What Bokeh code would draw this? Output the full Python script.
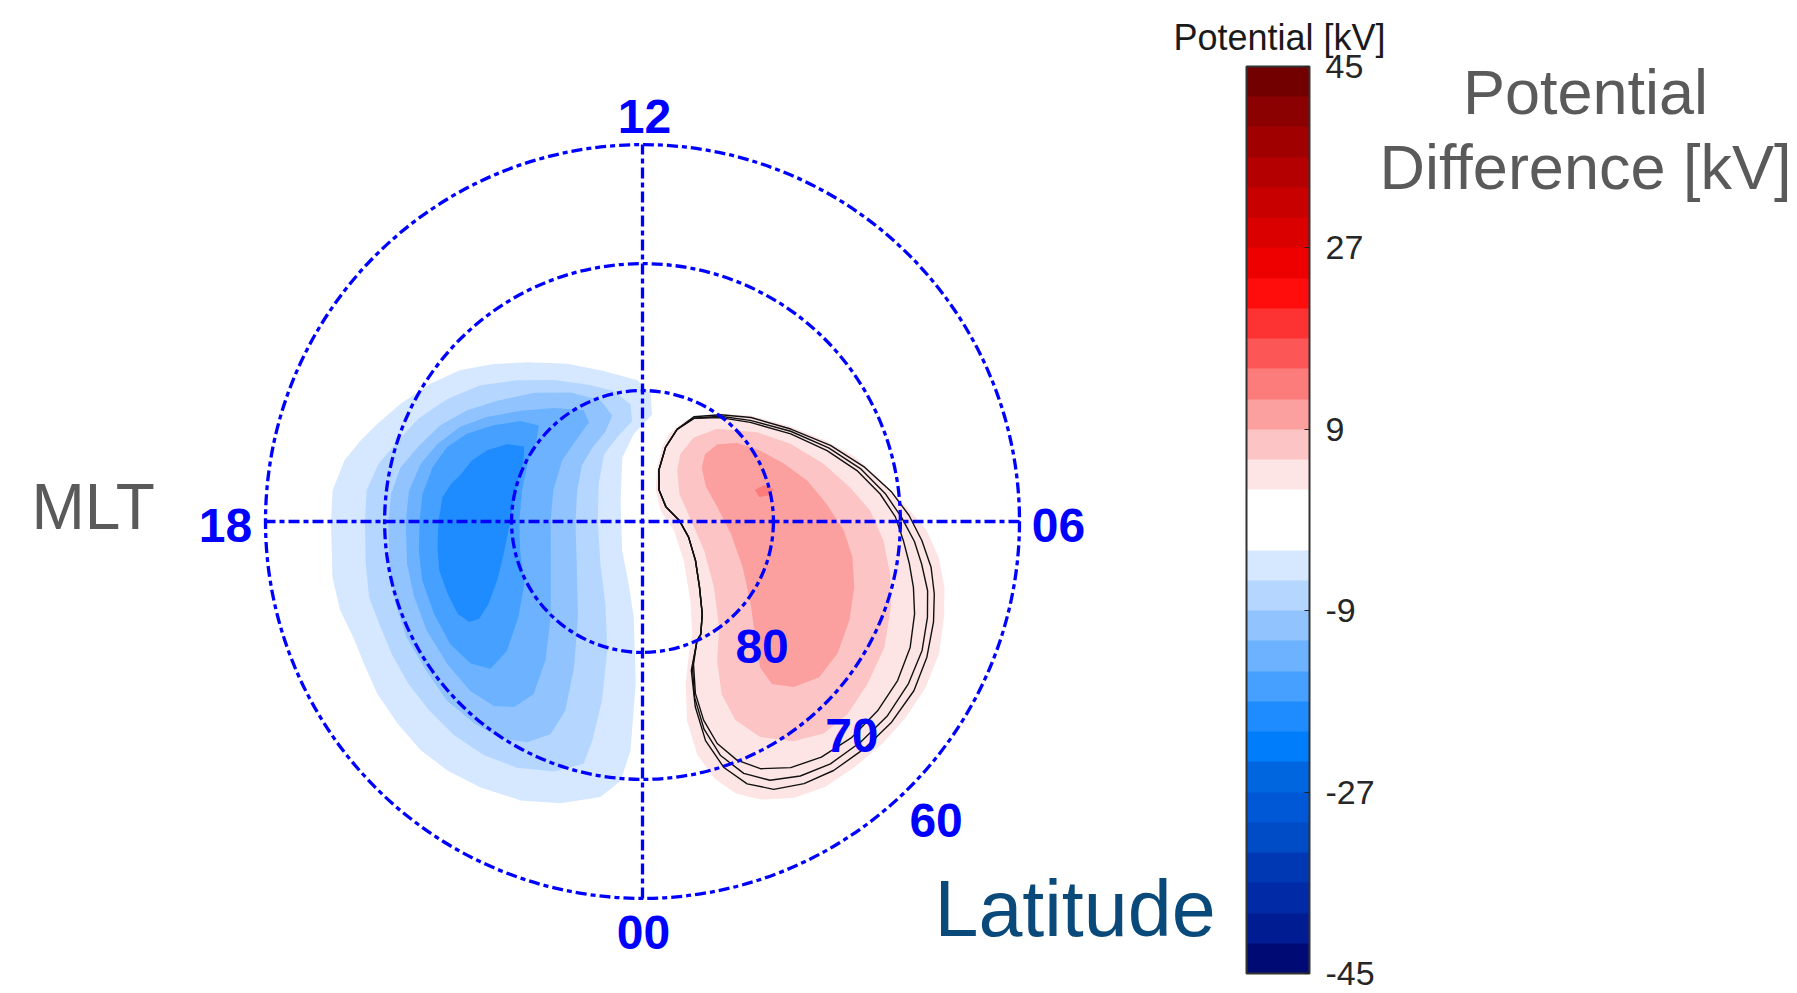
import math
from bokeh.plotting import figure
from bokeh.models import ColorBar, LinearColorMapper, FixedTicker, Label, Range1d
from bokeh.embed import file_html
from bokeh.resources import INLINE
from bokeh.core.properties import value

# ---------------- data (MLT in hours, magnetic latitude in degrees) ----------------
# filled potential contours, negative cell (dusk side)
neg3_mlt = [18.00,17.62,17.23,16.93,16.65,16.27,15.80,15.35,14.89,14.39,13.70,12.96,12.14,11.76,11.66,12.38,13.17,15.09,21.66,23.18,23.65,23.84,23.80,23.68,23.42,22.92,22.43,21.91,21.46,21.06,20.63,20.20,19.80,19.46,19.09,18.68]
neg3_lat = [65.6,65.6,66.2,67.1,68.0,69.1,70.4,71.7,73.3,74.9,76.6,78.1,79.2,80.2,81.8,83.3,84.9,87.7,87.3,85.1,82.7,77.6,72.3,69.8,68.3,67.1,66.2,65.6,65.2,65.0,65.1,65.2,65.5,65.6,65.3,65.3]
neg6_mlt = [18.00,17.57,17.18,16.84,16.36,15.86,15.33,14.77,14.14,13.46,12.83,12.39,12.39,13.11,13.98,15.28,18.00,21.16,22.39,22.98,23.15,23.14,23.09,22.70,22.20,21.72,21.24,20.77,20.32,19.86,19.41,19.03,18.58]
neg6_lat = [68.4,68.4,69.0,69.9,70.9,72.2,73.7,75.5,77.2,78.7,79.8,81.0,82.3,83.3,84.1,85.6,86.6,85.3,83.1,79.8,75.9,72.7,70.7,69.4,68.5,68.0,67.8,67.8,67.8,67.9,68.0,67.9,68.2]
neg9_mlt = [18.00,17.58,17.16,16.78,16.31,15.84,15.35,14.67,13.94,13.28,13.06,13.50,14.27,15.14,16.31,18.00,20.33,21.73,22.32,22.52,22.44,22.16,21.79,21.35,20.83,20.30,19.74,19.23,18.63]
neg9_lat = [70.3,70.4,70.8,71.7,72.7,74.0,75.5,77.1,78.7,80.2,81.6,82.6,83.2,83.7,84.5,84.9,83.9,81.2,77.7,74.3,72.1,70.7,69.9,69.6,69.4,69.6,69.6,69.8,70.1]
neg12_mlt = [18.00,17.50,17.03,16.62,16.17,15.74,15.18,14.53,13.86,13.89,14.64,15.52,16.72,18.00,19.76,21.07,21.67,21.85,21.69,21.41,20.97,20.41,19.79,19.22,18.68]
neg12_lat = [71.7,71.8,72.3,73.1,74.2,75.6,77.4,79.0,80.4,81.4,82.0,82.3,82.8,83.0,82.2,79.9,77.0,74.3,72.6,71.7,71.3,71.3,71.3,71.4,71.5]
neg15_mlt = [18.00,17.52,17.03,16.61,16.23,15.81,15.37,15.15,15.50,16.12,17.04,18.00,18.89,19.85,20.51,20.91,20.94,20.64,20.17,19.59,19.00,18.49]
neg15_lat = [72.8,72.9,73.3,73.9,74.9,76.4,77.9,79.2,79.8,80.1,80.5,80.6,80.4,79.8,78.0,75.6,73.7,72.8,72.4,72.4,72.4,72.6]
neg18_mlt = [18.00,17.54,17.26,17.02,16.69,16.36,16.01,15.84,16.20,16.88,17.68,18.16,18.88,19.47,19.88,20.05,20.01,19.77,19.35,18.90,18.48]
neg18_lat = [74.3,74.5,75.0,75.6,76.1,76.9,78.1,79.3,79.8,80.0,80.0,79.8,79.1,78.0,76.6,75.4,74.6,74.1,74.0,73.9,74.1]

# positive cell (dawn side)
pos3_mlt = [10.84,10.43,9.69,8.96,8.18,7.62,7.14,6.66,6.26,5.90,5.54,5.18,4.83,4.40,3.98,3.56,3.14,2.73,2.30,1.91,1.53,1.26,1.04,0.88,0.84,0.99,1.29,1.59,2.09,3.11,4.93,8.10,10.48,10.99,11.01]
pos3_lat = [82.9,81.5,80.0,78.4,76.5,74.7,72.9,71.3,69.7,67.9,66.7,65.8,65.2,64.5,64.2,64.2,64.3,64.5,64.7,65.3,66.4,67.6,69.3,71.5,74.3,77.1,79.3,80.6,83.0,85.7,87.5,88.4,87.4,85.7,84.1]
pos6_mlt = [10.05,9.91,9.41,8.53,7.85,7.18,6.62,6.18,5.70,5.21,4.73,4.17,3.61,3.12,2.70,2.30,1.91,1.67,1.64,1.88,2.39,3.16,4.31,6.08,8.44,9.72]
pos6_lat = [84.1,82.5,80.9,78.9,77.2,75.4,73.8,72.4,71.3,70.4,69.6,68.8,68.4,68.1,68.3,69.3,71.0,73.1,75.4,77.9,80.0,82.6,84.8,86.3,86.5,85.3]
pos9_mlt = [8.82,9.14,9.06,8.64,8.07,7.48,6.93,6.36,5.83,5.36,4.85,4.30,3.73,3.24,2.83,2.57,2.59,2.90,3.51,4.36,5.47,6.72,7.91]
pos9_lat = [83.9,83.0,81.8,80.6,79.5,78.3,77.0,75.8,74.5,73.6,72.9,72.3,71.8,71.8,72.7,74.0,75.6,77.4,79.6,81.6,83.2,84.2,84.5]
pos12_mlt = [7.05,7.11,6.92,6.78,6.79]
pos12_lat = [81.1,80.3,79.7,80.2,80.9]

# thin black boundary contours
line1_mlt = [1.82,2.19,2.74,3.58,4.75,6.11,8.13,10.15,10.82,10.85,10.63,10.23,9.55,8.84,8.04,7.40,6.89,6.44,6.07,5.72,5.40,5.09,4.75,4.32,3.87,3.41,2.93,2.48,2.07,1.70,1.44,1.24,1.14,1.14,1.31,1.64,1.82]
line1_lat = [80.3,81.6,83.4,85.0,86.3,87.2,87.9,87.3,85.9,84.1,82.5,81.2,80.1,78.8,76.8,74.8,73.0,71.5,70.4,69.7,69.0,68.3,67.6,66.9,66.5,66.4,66.5,66.9,67.6,68.7,70.1,71.9,74.0,76.2,78.4,80.0,80.3]
line2_mlt = [1.82,2.19,2.74,3.58,4.75,6.11,8.13,10.15,10.82,10.85,10.63,10.24,9.57,8.88,8.09,7.44,6.91,6.44,6.06,5.72,5.42,5.09,4.76,4.35,3.91,3.44,2.98,2.52,2.12,1.75,1.46,1.23,1.10,1.10,1.26,1.64,1.82]
line2_lat = [80.3,81.6,83.4,85.0,86.3,87.2,87.9,87.3,85.9,84.1,82.5,81.2,80.0,78.7,76.7,74.6,72.7,71.1,69.9,68.8,68.0,67.1,66.5,65.9,65.6,65.5,65.7,66.0,66.6,67.5,68.9,70.9,73.3,75.9,78.2,80.0,80.3]
line3_mlt = [1.82,2.19,2.74,3.58,4.75,6.11,8.13,10.15,10.82,10.85,10.63,10.26,9.59,8.92,8.13,7.47,6.93,6.46,6.09,5.74,5.40,5.07,4.73,4.30,3.87,3.41,2.95,2.50,2.11,1.74,1.45,1.22,1.07,1.06,1.21,1.64,1.82]
line3_lat = [80.3,81.6,83.4,85.0,86.3,87.2,87.9,87.3,85.9,84.1,82.5,81.1,79.9,78.5,76.6,74.4,72.4,70.6,69.3,68.2,67.2,66.5,65.9,65.3,64.9,64.9,65.1,65.4,65.9,66.7,68.0,69.9,72.4,75.2,78.0,80.0,80.3]

neg_levels = [-3, -6, -9, -12, -15, -18]
pos_levels = [3, 6, 9, 12]

# colour scale (kV), one colour per 3 kV band from -45 to 45
cbar_low, cbar_high, cbar_step = -45, 45, 3
cbar_ticks = [-45, -27, -9, 9, 27, 45]
palette = ["#000a75","#001c92","#002aa6","#0038b4","#004bc6","#0058d6","#0066e0","#007dfb","#1e8cff","#46a0ff",
           "#6cb2ff","#91c3ff","#b5d7ff","#d5e8ff","#ffffff","#ffffff","#fde5e5","#fcc4c4","#fc9f9f","#fc7c7c",
           "#fd5656","#fd3232","#ff0c0c","#ee0000","#db0000","#c80000","#b40000","#a00000","#8b0000","#730000"]

# grid
grid_lats = [60, 70, 80]
meridian_mlt = [0, 6]
hour_labels = ["12", "18", "00", "06"]
hour_label_mlt = [12, 18, 0, 6]
lat_labels = ["80", "70", "60"]
lat_label_values = [80, 70, 60]
lat_label_mlt = 3
edge_lat = 60

# ---------------- projection (orthographic polar view, pole at centre, noon up) ----------------
def proj(mlt, lat):
    xs, ys = [], []
    for m, la in zip(mlt, lat):
        phi = math.radians((12 - m) * 15)
        c = math.cos(math.radians(la))
        xs.append(c * math.sin(phi))
        ys.append(c * math.cos(phi))
    return xs, ys

def band_colour(level):
    lo = level - cbar_step if level < 0 else level
    return palette[int((lo - cbar_low) // cbar_step)]

W, H = 1797, 993
PX = 754.0           # pixels per unit of cos(latitude)
CXs, CYs = 642, 521  # screen position of the pole

p = figure(width=W, height=H, output_backend="svg", toolbar_location=None, min_border=0,
           x_range=Range1d(-CXs / PX, (W - CXs) / PX), y_range=Range1d(-(H - CYs) / PX, CYs / PX),
           x_axis_type=None, y_axis_type=None, outline_line_color=None)
p.grid.visible = False

contours = [(neg3_mlt, neg3_lat), (neg6_mlt, neg6_lat), (neg9_mlt, neg9_lat), (neg12_mlt, neg12_lat),
            (neg15_mlt, neg15_lat), (neg18_mlt, neg18_lat),
            (pos3_mlt, pos3_lat), (pos6_mlt, pos6_lat), (pos9_mlt, pos9_lat), (pos12_mlt, pos12_lat)]
levels = neg_levels + pos_levels
cxs, cys, ccols = [], [], []
for (m, l), lev in zip(contours, levels):
    xs, ys = proj(m, l)
    cxs.append(xs); cys.append(ys); ccols.append(band_colour(lev))
p.patches(cxs, cys, fill_color=ccols, line_color=None)

bxs, bys = [], []
for m, l in [(line1_mlt, line1_lat), (line2_mlt, line2_lat), (line3_mlt, line3_lat)]:
    xs, ys = proj(m, l); bxs.append(xs); bys.append(ys)
p.multi_line(bxs, bys, line_color="#111111", line_width=1.4)

grid_col = "#0000ff"
dash = "11 4 5 4"
p.circle(x=[0] * len(grid_lats), y=[0] * len(grid_lats),
         radius=[math.cos(math.radians(a)) for a in grid_lats],
         fill_color=None, line_color=grid_col, line_width=3.3, line_dash=dash)
x0, y0 = proj(meridian_mlt, [edge_lat] * len(meridian_mlt))
x1, y1 = proj([m + 12 for m in meridian_mlt], [edge_lat] * len(meridian_mlt))
p.segment(x0, y0, x1, y1, line_color=grid_col, line_width=3.3, line_dash=dash)

hx, hy = proj(hour_label_mlt, [edge_lat] * len(hour_label_mlt))
p.text(hx, hy, text=hour_labels, x_offset=[2, -40, 1, 39], y_offset=[-28, 4, 34, 4],
       text_align="center", text_baseline="middle", text_font=value("Liberation Sans"),
       text_font_style="bold", text_font_size="48px", text_color=grid_col)
lx, ly = proj([lat_label_mlt] * len(lat_label_values), lat_label_values)
p.text(lx, ly, text=lat_labels, x_offset=27, y_offset=32, text_align="center", text_baseline="middle",
       text_font=value("Liberation Sans"), text_font_style="bold", text_font_size="48px", text_color=grid_col)

mapper = LinearColorMapper(palette=palette, low=cbar_low, high=cbar_high)
cb = ColorBar(color_mapper=mapper, location=(1246, 20), width=63, height=907, padding=0, margin=0,
              ticker=FixedTicker(ticks=cbar_ticks),
              major_label_overrides={t: str(t) for t in cbar_ticks},
              major_label_text_font_size="34px",
              major_label_text_font="Liberation Sans", major_label_text_color="#262626",
              major_tick_line_color="#222222", major_tick_in=5, major_tick_out=0,
              bar_line_color="#333333", bar_line_width=2, label_standoff=16,
              background_fill_alpha=0, border_line_color=None)
p.add_layout(cb, "center")

def lab(t, x, y, size, color, align="left"):
    p.add_layout(Label(x=x, y=y, x_units="screen", y_units="screen", text=t, text_font="Liberation Sans",
                       text_font_size=size, text_color=color, text_align=align, text_baseline="middle"))

lab("MLT", 31, 487, "64px", "#5a5a5a")
lab("Latitude", 934, 85, "79px", "#0a4a7a")
lab("Potential", 1585, 902, "63px", "#5a5a5a", "center")
lab("Difference [kV]", 1585, 827, "63px", "#5a5a5a", "center")
lab("Potential [kV]", 1279, 956, "36px", "#1a1a1a", "center")

open("out.html", "w").write(file_html(p, INLINE))
